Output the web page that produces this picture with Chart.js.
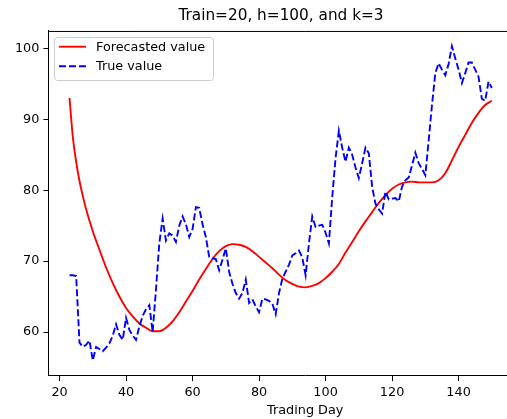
<!DOCTYPE html>
<html>
<head>
<meta charset="utf-8">
<script src="https://cdn.jsdelivr.net/npm/chart.js@4.4.1/dist/chart.umd.min.js"></script>
<style>
  html, body { margin: 0; padding: 0; background: #fff; overflow: hidden; }
  #wrap { width: 562px; height: 419px; }
</style>
</head>
<body>
<div id="wrap"><canvas id="priceChart" width="562" height="419"></canvas></div>
<script>
// true values, one per trading day starting at day 23
const tradingDays = Array.from({length: 128}, (_, i) => 23 + i);
const trueValues = [
    68.0, 68.0, 67.9, 58.5, 57.9, 58.2, 58.8, 56.0, 57.9, 57.6,
    57.3, 57.8, 58.4, 59.5, 61.1, 59.6, 58.9, 62.0, 60.3, 59.5,
    58.9, 60.8, 62.3, 63.2, 63.8, 60.0, 66.0, 72.5, 76.0, 72.9,
    73.9, 73.6, 72.7, 75.0, 76.3, 75.2, 73.4, 74.5, 77.6, 77.5,
    75.2, 73.4, 70.6, 70.4, 70.3, 68.7, 70.2, 71.8, 68.5, 66.8,
    65.5, 64.7, 65.5, 67.4, 64.1, 64.6, 63.6, 62.8, 64.7, 64.6,
    64.4, 64.0, 62.5, 65.5, 67.5, 68.5, 69.5, 70.8, 71.1, 71.5,
    70.5, 68.0, 72.5, 76.3, 74.8, 75.0, 75.1, 74.0, 72.5, 79.0,
    84.5, 88.4, 86.0, 84.0, 86.0, 85.0, 83.2, 81.7, 83.8, 86.0,
    85.2, 80.5, 78.1, 77.3, 76.7, 79.8, 78.7, 78.8, 78.9, 78.4,
    80.5, 81.4, 81.8, 83.5, 85.3, 83.8, 83.0, 82.1, 87.0, 92.0,
    96.5, 97.9, 97.0, 96.2, 97.8, 100.3, 98.6, 97.0, 95.1, 96.5,
    98.0, 98.0, 97.0, 96.0, 92.9, 92.6, 95.3, 94.4
];

const forecastDays = [
    23, 24, 25, 26, 27, 28, 30, 32, 34, 36, 38, 40, 42, 44, 46, 48, 50,
    52, 54, 56, 58, 60, 62, 64, 66, 68, 70, 72, 74, 76, 78, 80, 82, 84,
    86, 88, 90, 92, 94, 96, 98, 100, 102, 104, 106, 108, 110, 112, 114,
    116, 118, 120, 122, 124, 126, 128, 130, 132, 134, 136, 138, 140,
    142, 144, 146, 148, 150
];
const forecastValues = [
    93.0, 87.5, 84.0, 81.3, 79.2, 77.3, 74.2, 71.6, 69.1, 66.9, 65.0, 63.4, 62.2, 61.2, 60.6, 60.1, 60.1,
    60.6, 61.5, 62.8, 64.3, 65.8, 67.4, 68.9, 70.3, 71.4, 72.1, 72.4, 72.3, 72.0, 71.4, 70.6, 69.8, 69.0,
    68.1, 67.3, 66.8, 66.4, 66.3, 66.5, 66.9, 67.6, 68.5, 69.6, 71.2, 72.7, 74.2, 75.6, 76.9,
    78.2, 79.3, 80.2, 80.8, 81.1, 81.2, 81.1, 81.1, 81.1, 81.4, 82.4, 84.2, 86.1,
    87.8, 89.5, 90.9, 92.0, 92.6
];

const xTicks = [20, 40, 60, 80, 100, 120, 140];
const yTicks = [60, 70, 80, 90, 100];

const baseFont = { family: "'DejaVu Sans', sans-serif", size: 12.8 };

// matplotlib-like top spine
const topSpine = {
    id: 'topSpine',
    afterDraw(chart) {
        const { ctx, chartArea } = chart;
        ctx.save();
        ctx.strokeStyle = '#000';
        ctx.lineWidth = 1;
        ctx.beginPath();
        ctx.moveTo(chartArea.left, chartArea.top + 0.5);
        ctx.lineTo(chartArea.right, chartArea.top + 0.5);
        ctx.stroke();
        ctx.restore();
    }
};

// legend box in the upper left corner of the axes
const legendBox = {
    id: 'legendBox',
    afterDraw(chart) {
        const { ctx } = chart;
        const x0 = 54.5, y0 = 37.5, w = 159, h = 43, r = 3;
        ctx.save();
        ctx.beginPath();
        ctx.roundRect(x0, y0, w, h, r);
        ctx.fillStyle = 'rgba(255,255,255,0.8)';
        ctx.fill();
        ctx.strokeStyle = '#cccccc';
        ctx.lineWidth = 1;
        ctx.stroke();
        ctx.font = "12.8px 'DejaVu Sans', sans-serif";
        ctx.textBaseline = 'middle';
        ctx.fillStyle = '#000';
        const rows = [46.7, 66.2];
        chart.data.datasets.forEach((ds, i) => {
            const y = rows[i];
            ctx.beginPath();
            ctx.strokeStyle = ds.borderColor;
            ctx.lineWidth = ds.borderWidth;
            ctx.setLineDash(ds.borderDash || []);
            ctx.moveTo(59, y);
            ctx.lineTo(86, y);
            ctx.stroke();
            ctx.setLineDash([]);
            ctx.fillText(ds.label, 96, y + 0.5);
        });
        ctx.restore();
    }
};

const ctx = document.getElementById('priceChart').getContext('2d');
const chart = new Chart(ctx, {
    type: 'line',
    data: {
        datasets: [{
            label: 'Forecasted value',
            data: forecastDays.map((d, i) => ({ x: d, y: forecastValues[i] })),
            borderColor: '#ff0000',
            borderWidth: 1.9,
            pointRadius: 0,
            cubicInterpolationMode: 'monotone',
            order: 1
        }, {
            label: 'True value',
            data: tradingDays.map((d, i) => ({ x: d, y: trueValues[i] })),
            borderColor: '#0000ff',
            borderWidth: 1.9,
            borderDash: [7, 3],
            pointRadius: 0,
            tension: 0,
            order: 0
        }]
    },
    options: {
        responsive: false,
        animation: false,
        devicePixelRatio: 1,
        layout: { padding: 0 },
        plugins: {
            legend: { display: false },
            tooltip: { enabled: false },
            title: {
                display: true,
                text: 'Train=20, h=100, and k=3',
                color: '#000',
                font: { family: "'DejaVu Sans', sans-serif", size: 15.3, weight: 'normal' },
                padding: { top: 7.3, bottom: 5.3 }
            }
        },
        scales: {
            x: {
                type: 'linear',
                min: 16.65,
                max: 171.1,
                afterBuildTicks: s => { s.ticks = xTicks.map(v => ({ value: v })); },
                afterFit: s => { s.height = 43; },
                ticks: { color: '#000', font: baseFont, padding: 4, maxRotation: 0 },
                grid: { drawOnChartArea: false, tickLength: 5, color: '#000', lineWidth: 1 },
                border: { color: '#000', width: 1 },
                title: {
                    display: true,
                    text: 'Trading Day',
                    color: '#000',
                    font: baseFont,
                    padding: { top: 2, bottom: 1 }
                }
            },
            y: {
                min: 53.8,
                max: 102.45,
                afterBuildTicks: s => { s.ticks = yTicks.map(v => ({ value: v })); },
                afterFit: s => { s.width = 48.4; },
                ticks: { color: '#000', font: baseFont, padding: 4 },
                grid: { drawOnChartArea: false, tickLength: 5, color: '#000', lineWidth: 1 },
                border: { color: '#000', width: 1 }
            }
        }
    },
    plugins: [topSpine, legendBox]
});
</script>
</body>
</html>
